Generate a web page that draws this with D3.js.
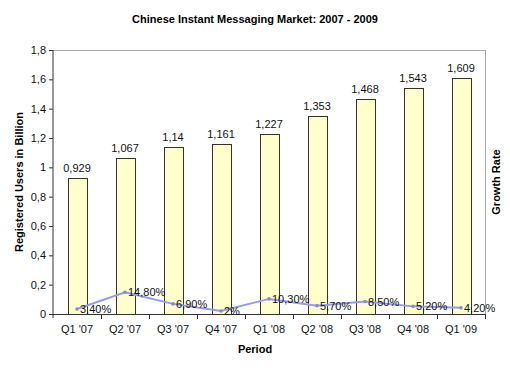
<!DOCTYPE html>
<html>
<head>
<meta charset="utf-8">
<script src="https://cdn.jsdelivr.net/npm/d3@7"></script>
<style>
  body { margin: 0; background: #fff; }
  text { font-family: Arial, "Liberation Sans", sans-serif; }
</style>
</head>
<body>
<svg width="510" height="383"></svg>
<script>
/* DATA */
var periods = ["Q1 '07", "Q2 '07", "Q3 '07", "Q4 '07", "Q1 '08", "Q2 '08", "Q3 '08", "Q4 '08", "Q1 '09"];
var users = [0.929, 1.067, 1.14, 1.161, 1.227, 1.353, 1.468, 1.543, 1.609];
var growth = [3.4, 14.8, 6.9, 2, 10.3, 5.7, 8.5, 5.2, 4.2];
var userLabels = ["0,929", "1,067", "1,14", "1,161", "1,227", "1,353", "1,468", "1,543", "1,609"];
var growthLabels = ["3,40%", "14,80%", "6,90%", "2%", "10,30%", "5,70%", "8,50%", "5,20%", "4,20%"];
var yTicks = [0, 0.2, 0.4, 0.6, 0.8, 1, 1.2, 1.4, 1.6, 1.8];

var svg = d3.select("svg");
var pLeft = 53, pRight = 485, pTop = 50, pBottom = 314;

var x = d3.scaleBand().domain(periods).range([pLeft, pRight]);
var y = d3.scaleLinear().domain([0, 1.8]).range([pBottom, pTop]);
/* growth rate in percent drawn on the same vertical scale (as a fraction) */
var y2 = d3.scaleLinear().domain([0, 180]).range([pBottom, pTop]);

/* TITLE */
svg.append("text").attr("x", 255).attr("y", 23).attr("text-anchor", "middle")
  .attr("font-size", "11px").attr("font-weight", "bold").text("Chinese Instant Messaging Market: 2007 - 2009");

/* PLOT FRAME (top and right in gray) */
svg.append("line").attr("x1", pLeft).attr("x2", pRight).attr("y1", pTop + 0.5).attr("y2", pTop + 0.5)
  .attr("stroke", "#aaa");
svg.append("line").attr("x1", pRight + 0.5).attr("x2", pRight + 0.5).attr("y1", pTop).attr("y2", pBottom)
  .attr("stroke", "#aaa");

/* BARS */
var bw = 19;
svg.selectAll(".bar").data(users).enter().append("rect")
  .attr("x", function(d, i) { return Math.round(x(periods[i]) + x.bandwidth() / 2 - bw / 2) + 0.5; })
  .attr("y", function(d) { return Math.round(y(d)) + 0.5; })
  .attr("width", bw)
  .attr("height", function(d) { return Math.round(pBottom - y(d)); })
  .attr("fill", "#ffffcc").attr("stroke", "#333").attr("stroke-width", 1);

svg.selectAll(".blab").data(users).enter().append("text")
  .attr("x", function(d, i) { return x(periods[i]) + x.bandwidth() / 2; })
  .attr("y", function(d) { return y(d) - 6; })
  .attr("text-anchor", "middle").attr("font-size", "11px").attr("fill", "#111")
  .text(function(d, i) { return userLabels[i]; });

/* AXES */
var yAxis = d3.axisLeft(y).tickValues(yTicks).tickSize(4)
  .tickFormat(function(d) { return d3.format(".1f")(d).replace(".0", "").replace(".", ","); });
var gy = svg.append("g").attr("transform", "translate(" + pLeft + ",0)").call(yAxis);
gy.selectAll("text").attr("font-size", "11px").attr("fill", "#111").attr("x", -7);
gy.select(".domain").attr("stroke", "#333").attr("d", "M0," + pTop + "V" + (pBottom + 4));
gy.selectAll("line").attr("stroke", "#333");

var gx = svg.append("g").attr("transform", "translate(0," + pBottom + ")");
gx.append("line").attr("x1", pLeft - 4).attr("x2", pRight).attr("y1", 0.5).attr("y2", 0.5).attr("stroke", "#333");
gx.selectAll(".tk").data(periods.slice(1)).enter().append("line")
  .attr("x1", function(d) { return Math.round(x(d)) + 0.5; })
  .attr("x2", function(d) { return Math.round(x(d)) + 0.5; })
  .attr("y1", 0).attr("y2", 5).attr("stroke", "#333");
gx.append("line").attr("x1", pRight + 0.5).attr("x2", pRight + 0.5).attr("y1", 0).attr("y2", 5).attr("stroke", "#333");
gx.selectAll(".xl").data(periods).enter().append("text")
  .attr("x", function(d) { return x(d) + x.bandwidth() / 2; })
  .attr("y", 19).attr("text-anchor", "middle").attr("font-size", "11px").attr("fill", "#111")
  .text(function(d) { return d; });

/* AXIS TITLES */
svg.append("text").attr("x", 255).attr("y", 353).attr("text-anchor", "middle")
  .attr("font-size", "11px").attr("font-weight", "bold").text("Period");
svg.append("text").attr("transform", "translate(23,182) rotate(-90)").attr("text-anchor", "middle")
  .attr("font-size", "11px").attr("font-weight", "bold").text("Registered Users in Billion");
svg.append("text").attr("transform", "translate(500,182) rotate(-90)").attr("text-anchor", "middle")
  .attr("font-size", "11px").attr("font-weight", "bold").text("Growth Rate");

/* GROWTH LINE */
var line = d3.line()
  .x(function(d, i) { return x(periods[i]) + x.bandwidth() / 2; })
  .y(function(d) { return y2(d); });
svg.append("path").datum(growth).attr("d", line)
  .attr("fill", "none").attr("stroke", "#9999ee").attr("stroke-width", 2);
svg.selectAll(".pt").data(growth).enter().append("circle")
  .attr("cx", function(d, i) { return x(periods[i]) + x.bandwidth() / 2; })
  .attr("cy", function(d) { return y2(d); })
  .attr("r", 1.8).attr("fill", "#8888dd");
svg.selectAll(".glab").data(growth).enter().append("text")
  .attr("x", function(d, i) { return x(periods[i]) + x.bandwidth() / 2 + 3; })
  .attr("y", function(d) { return y2(d) + 4; })
  .attr("font-size", "11px").attr("fill", "#111")
  .text(function(d, i) { return growthLabels[i]; });
</script>
</body>
</html>
